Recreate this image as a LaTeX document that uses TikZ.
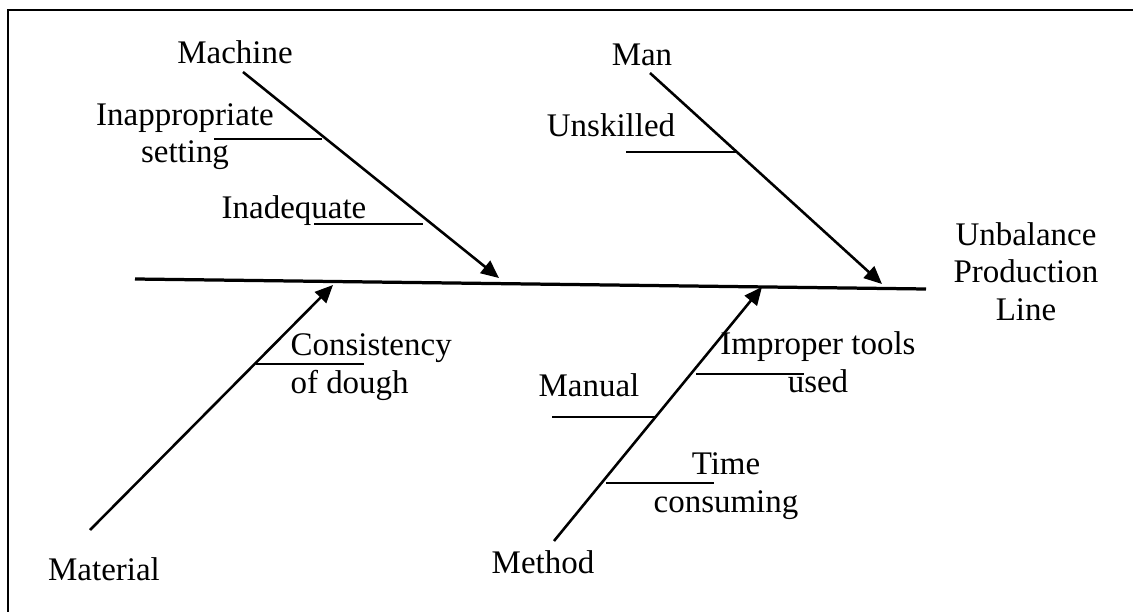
\documentclass[tikz,border=0pt]{standalone}
\usepackage{fontspec}
\setmainfont{Liberation Serif}
\usetikzlibrary{arrows.meta}

\tikzset{
  cause/.style={font=\fontsize{12.2}{13.7}\selectfont,inner sep=0pt,align=center,anchor=base},
  bone/.style={line width=0.95pt,-{Triangle[length=6.6pt,width=5.8pt]}},
  twig/.style={line width=0.4pt},
}

\begin{document}
\begin{tikzpicture}[x=0.37pt,y=-0.37pt]
        \useasboundingbox (0,0) rectangle (1133,612);
        \draw [line width=0.4pt] (8,625)--(8,10)--(1145,10);
        \coordinate (head) at (926,289); \coordinate (tail) at (135,279);
        \draw [line width=1.2pt] (tail)--(head);
        \node [cause] (effect) at (1026,320) {Unbalance\\Production\\Line};
        \node [cause] (machine) at (235,64) {Machine};
        \node [cause] (man) at (642,66) {Man};
        \node [cause] (material) at (104,580) {Material};
        \node [cause] (method) at (543,573) {Method};
        \coordinate (mc0) at (243,72); \coordinate (mc1) at (499,278);
        \coordinate (mn0) at (650,73); \coordinate (mn1) at (882,284);
        \coordinate (mt0) at (90,530); \coordinate (mt1) at (333,285);
        \coordinate (me0) at (554,541); \coordinate (me1) at (762,287);
        \draw [bone] (mc0)--(mc1);
        \draw [bone] (mn0)--(mn1);
        \draw [bone] (mt0)--(mt1);
        \draw [bone] (me0)--(me1);
        \node [cause] (setting) at (185,163) {Inappropriate\\setting};
        \node [cause] (inadequate) at (294,218) {Inadequate};
        \node [cause] (unskilled) at (611,137) {Unskilled};
        \node [cause,align=left,anchor=base west] (dough) at (290,393) {Consistency\\of dough};
        \node [cause] (manual) at (589,396) {Manual};
        \node [cause] (tools) at (818,392) {Improper tools\\used};
        \node [cause] (time) at (726,512) {Time\\consuming};
        \coordinate (a0) at (214,139); \coordinate (a1) at (322,139);
        \coordinate (b0) at (314,224); \coordinate (b1) at (423,224);
        \coordinate (c0) at (626,152); \coordinate (c1) at (737,152);
        \coordinate (d0) at (256,364); \coordinate (d1) at (364,364);
        \coordinate (e0) at (552,417); \coordinate (e1) at (655,417);
        \coordinate (f0) at (696,374); \coordinate (f1) at (804,374);
        \coordinate (g0) at (606,483); \coordinate (g1) at (714,483);
        \foreach \t in {a,b,c,d,e,f,g} \draw [twig] (\t0)--(\t1);
    \end{tikzpicture}
\end{document}
